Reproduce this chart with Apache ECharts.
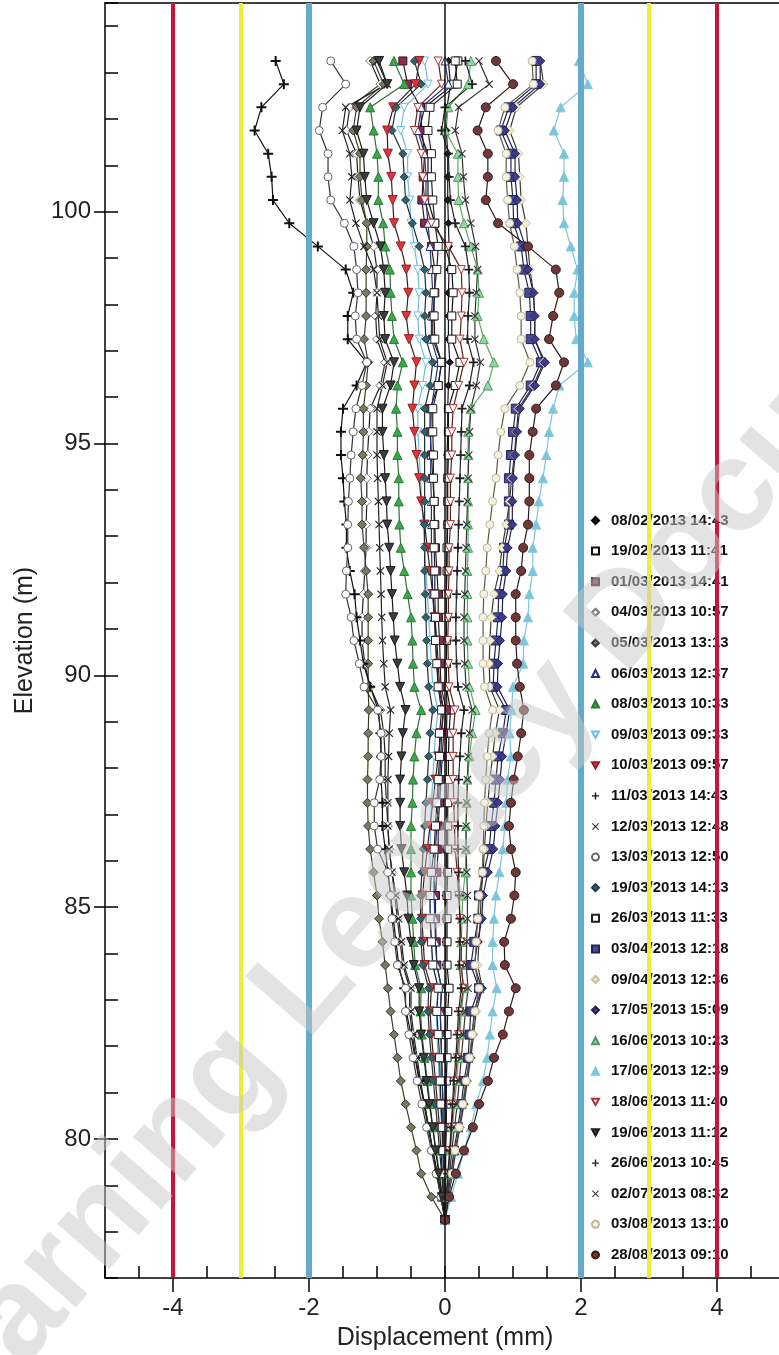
<!DOCTYPE html>
<html><head><meta charset="utf-8">
<script src="https://cdn.jsdelivr.net/npm/echarts@6/dist/echarts.min.js"></script>
<style>html,body{margin:0;padding:0;background:#fff;overflow:hidden}#c{width:779px;height:1355px}</style>
</head><body><div id="c"></div>
<script>
// Elevation (m) of each reading depth, top to bottom
const ELEV = [103.25,102.75,102.25,101.75,101.25,100.75,100.25,99.75,99.25,98.75,
98.25,97.75,97.25,96.75,96.25,95.75,95.25,94.75,94.25,93.75,
93.25,92.75,92.25,91.75,91.25,90.75,90.25,89.75,89.25,88.75,
88.25,87.75,87.25,86.75,86.25,85.75,85.25,84.75,84.25,83.75,
83.25,82.75,82.25,81.75,81.25,80.75,80.25,79.75,79.25,78.75,
78.25];

const NAMES = ["08/02/2013 14:43","19/02/2013 11:41","01/03/2013 14:41","04/03/2013 10:57","05/03/2013 13:13",
"06/03/2013 12:37","08/03/2013 10:33","09/03/2013 09:33","10/03/2013 09:57","11/03/2013 14:43",
"12/03/2013 12:48","13/03/2013 12:50","19/03/2013 14:13","26/03/2013 11:33","03/04/2013 12:18",
"09/04/2013 12:36","17/05/2013 15:09","16/06/2013 10:23","17/06/2013 12:39","18/06/2013 11:40",
"19/06/2013 11:12","26/06/2013 10:45","02/07/2013 08:32","03/08/2013 13:10","28/08/2013 09:10"];

const X_LABELS = [-4,-2,0,2,4];
const Y_LABELS = [80,85,90,95,100];
const LIMITS = [-4,-3,-2,2,3,4];

const S01 = [0.05,0.08,0.03,0.02,0.04,0.04,0.04,0.05,0.06,0.06,
0.05,0.05,0.05,0.07,0.05,0.04,0.04,0.03,0.03,0.03,
0.03,0.03,0.02,0.02,0.02,0.02,0.02,0.02,0.03,0.02,
0.02,0.02,0.02,0.02,0.02,0.02,0.01,0.01,0.01,0.01,
0.02,0.01,0.01,0.01,0.01,0.01,0.00,0.00,0.00,0.00,0.00];
const S02 = [0.19,0.13,-0.30,-0.38,-0.25,-0.25,-0.25,-0.15,0.00,0.10,
0.12,0.10,0.10,0.22,0.15,0.05,0.05,0.05,0.04,0.04,
0.04,0.03,0.03,0.02,0.02,0.02,0.02,0.02,0.08,0.06,
0.05,0.05,0.04,0.04,0.04,0.04,0.03,0.03,0.03,0.03,
0.06,0.04,0.03,0.03,0.02,0.02,0.02,0.01,0.01,0.00,0.00];
const S03 = [-0.62,-0.55,-0.36,-0.34,-0.30,-0.32,-0.34,-0.30,-0.20,-0.15,
-0.15,-0.18,-0.18,-0.05,-0.10,-0.22,-0.22,-0.20,-0.18,-0.16,
-0.15,-0.14,-0.12,-0.10,-0.10,-0.08,-0.07,-0.06,0.02,-0.02,
-0.04,-0.06,-0.08,-0.10,-0.10,-0.12,-0.14,-0.14,-0.13,-0.12,
-0.05,-0.07,-0.06,-0.05,-0.04,-0.03,-0.03,-0.02,-0.01,0.00,0.00];
const S04 = [-1.10,-0.95,-1.40,-1.45,-1.30,-1.28,-1.25,-1.15,-1.05,-1.00,
-1.00,-1.02,-1.00,-0.88,-0.95,-1.10,-1.12,-1.14,-1.15,-1.15,
-1.16,-1.16,-1.18,-1.20,-1.22,-1.22,-1.18,-1.10,-0.95,-0.90,
-0.88,-0.88,-0.86,-0.84,-0.82,-0.78,-0.74,-0.70,-0.66,-0.62,
-0.52,-0.52,-0.48,-0.43,-0.37,-0.31,-0.25,-0.18,-0.12,-0.06,0.00];
const S05 = [-1.05,-0.90,-1.30,-1.35,-1.25,-1.25,-1.22,-1.15,-1.15,-1.16,
-1.16,-1.16,-1.19,-1.13,-1.16,-1.20,-1.20,-1.21,-1.24,-1.22,
-1.22,-1.19,-1.16,-1.13,-1.13,-1.13,-1.13,-1.13,-1.12,-1.13,
-1.13,-1.14,-1.14,-1.13,-1.10,-1.05,-1.00,-0.97,-0.92,-0.88,
-0.84,-0.80,-0.75,-0.70,-0.65,-0.58,-0.50,-0.42,-0.35,-0.20,0.00];
const S06 = [0.00,0.05,-0.35,-0.40,-0.30,-0.28,-0.28,-0.25,-0.22,-0.20,
-0.18,-0.20,-0.20,-0.10,-0.15,-0.20,-0.21,-0.21,-0.21,-0.20,
-0.20,-0.20,-0.19,-0.18,-0.16,-0.14,-0.12,-0.10,-0.02,-0.05,
-0.06,-0.08,-0.10,-0.12,-0.14,-0.16,-0.16,-0.15,-0.14,-0.12,
-0.05,-0.07,-0.06,-0.05,-0.04,-0.03,-0.03,-0.02,-0.01,0.00,0.00];
const S07 = [-0.75,-0.60,-1.10,-1.05,-1.00,-0.98,-0.98,-0.91,-0.88,-0.81,
-0.80,-0.78,-0.75,-0.62,-0.70,-0.72,-0.70,-0.70,-0.68,-0.68,
-0.67,-0.65,-0.60,-0.55,-0.50,-0.48,-0.47,-0.45,-0.35,-0.42,
-0.45,-0.47,-0.48,-0.50,-0.50,-0.50,-0.50,-0.48,-0.46,-0.44,
-0.35,-0.36,-0.34,-0.30,-0.26,-0.22,-0.18,-0.13,-0.08,-0.04,0.00];
const S08 = [-0.30,-0.25,-0.60,-0.65,-0.55,-0.55,-0.52,-0.50,-0.45,-0.40,
-0.38,-0.40,-0.38,-0.28,-0.33,-0.40,-0.40,-0.38,-0.36,-0.34,
-0.32,-0.30,-0.28,-0.26,-0.24,-0.22,-0.20,-0.18,-0.10,-0.14,
-0.16,-0.18,-0.20,-0.21,-0.22,-0.22,-0.22,-0.21,-0.20,-0.18,
-0.10,-0.13,-0.12,-0.10,-0.09,-0.07,-0.05,-0.04,-0.02,-0.01,0.00];
const S09 = [-0.38,-0.43,-0.76,-0.85,-0.84,-0.79,-0.77,-0.75,-0.65,-0.57,
-0.54,-0.57,-0.53,-0.42,-0.45,-0.48,-0.45,-0.42,-0.38,-0.35,
-0.30,-0.26,-0.22,-0.18,-0.15,-0.12,-0.10,-0.08,-0.02,-0.06,
-0.10,-0.14,-0.18,-0.22,-0.26,-0.30,-0.33,-0.34,-0.32,-0.30,
-0.20,-0.22,-0.20,-0.17,-0.14,-0.11,-0.08,-0.06,-0.04,-0.02,0.00];
const S10 = [-2.49,-2.37,-2.70,-2.80,-2.60,-2.55,-2.53,-2.29,-1.87,-1.46,
-1.35,-1.43,-1.43,-1.15,-1.30,-1.50,-1.53,-1.53,-1.50,-1.48,
-1.45,-1.45,-1.40,-1.33,-1.30,-1.25,-1.20,-1.10,-0.98,-0.95,
-0.94,-0.94,-0.92,-0.92,-0.88,-0.84,-0.80,-0.76,-0.72,-0.68,
-0.60,-0.57,-0.50,-0.44,-0.38,-0.30,-0.24,-0.18,-0.11,-0.05,0.00];
const S11 = [-1.00,-0.85,-1.46,-1.51,-1.40,-1.37,-1.40,-1.31,-1.19,-1.05,
-1.00,-0.98,-0.96,-0.85,-0.92,-1.00,-1.00,-1.00,-0.99,-0.98,
-0.97,-0.96,-0.95,-0.94,-0.93,-0.92,-0.90,-0.88,-0.80,-0.82,
-0.83,-0.84,-0.84,-0.84,-0.82,-0.78,-0.72,-0.68,-0.64,-0.60,
-0.50,-0.50,-0.46,-0.41,-0.36,-0.30,-0.24,-0.18,-0.12,-0.06,0.00];
const S12 = [-1.68,-1.46,-1.80,-1.85,-1.72,-1.72,-1.68,-1.48,-1.34,-1.30,
-1.28,-1.32,-1.30,-1.15,-1.22,-1.31,-1.35,-1.38,-1.40,-1.42,
-1.43,-1.43,-1.45,-1.46,-1.38,-1.34,-1.26,-1.19,-0.99,-0.94,
-0.94,-0.96,-1.04,-1.04,-0.99,-0.84,-0.80,-0.78,-0.74,-0.70,
-0.58,-0.58,-0.53,-0.47,-0.41,-0.34,-0.27,-0.20,-0.13,-0.06,0.00];
const S13 = [-0.45,-0.35,-0.72,-0.78,-0.62,-0.60,-0.58,-0.48,-0.38,-0.30,
-0.28,-0.30,-0.28,-0.18,-0.22,-0.30,-0.30,-0.30,-0.30,-0.30,
-0.30,-0.30,-0.30,-0.29,-0.28,-0.27,-0.26,-0.24,-0.18,-0.22,
-0.24,-0.26,-0.28,-0.30,-0.32,-0.34,-0.36,-0.36,-0.35,-0.33,
-0.24,-0.25,-0.23,-0.20,-0.17,-0.14,-0.11,-0.08,-0.05,-0.02,0.00];
const S14 = [0.15,0.18,-0.22,-0.25,-0.20,-0.20,-0.18,-0.15,-0.10,-0.12,
-0.16,-0.16,-0.15,-0.05,-0.10,-0.18,-0.18,-0.17,-0.17,-0.16,
-0.16,-0.16,-0.15,-0.15,-0.14,-0.14,-0.12,-0.10,-0.05,-0.08,
-0.08,-0.10,-0.12,-0.14,-0.16,-0.20,-0.22,-0.22,-0.20,-0.18,
-0.10,-0.12,-0.10,-0.08,-0.07,-0.06,-0.04,-0.03,-0.02,-0.01,0.00];
const S15 = [1.34,1.34,0.94,0.82,0.97,0.97,1.00,1.01,1.12,1.16,
1.24,1.26,1.26,1.41,1.26,1.04,1.00,0.97,0.94,0.94,
0.94,0.87,0.85,0.79,0.78,0.75,0.72,0.71,0.90,0.85,
0.78,0.75,0.72,0.68,0.65,0.57,0.50,0.49,0.43,0.38,
0.50,0.38,0.36,0.34,0.28,0.24,0.19,0.13,0.09,0.04,0.00];
const S16 = [1.40,1.45,1.05,0.95,1.08,1.10,1.12,1.19,1.22,1.25,
1.30,1.32,1.32,1.45,1.30,1.08,1.05,1.02,0.98,0.95,
0.90,0.84,0.80,0.72,0.68,0.66,0.65,0.66,0.80,0.74,
0.70,0.66,0.63,0.60,0.58,0.56,0.53,0.52,0.50,0.48,
0.55,0.46,0.42,0.38,0.33,0.28,0.22,0.16,0.11,0.05,0.00];
const S17 = [1.40,1.40,1.00,0.88,1.03,1.03,1.06,1.07,1.18,1.22,
1.30,1.32,1.32,1.47,1.32,1.10,1.06,1.03,1.00,0.99,
0.99,0.92,0.90,0.85,0.84,0.81,0.78,0.77,0.95,0.90,
0.84,0.81,0.78,0.74,0.71,0.63,0.56,0.54,0.48,0.43,
0.54,0.43,0.40,0.37,0.31,0.27,0.21,0.15,0.10,0.05,0.00];
const S18 = [0.38,0.34,0.05,0.00,0.19,0.19,0.20,0.28,0.38,0.48,
0.50,0.48,0.57,0.72,0.63,0.38,0.34,0.34,0.34,0.34,
0.34,0.34,0.33,0.33,0.33,0.33,0.34,0.36,0.45,0.40,
0.36,0.33,0.32,0.31,0.31,0.30,0.26,0.25,0.24,0.23,
0.28,0.24,0.22,0.20,0.17,0.14,0.11,0.08,0.05,0.02,0.00];
const S19 = [1.97,2.10,1.70,1.60,1.75,1.75,1.73,1.75,1.85,1.95,
1.90,1.90,1.93,2.10,1.68,1.59,1.53,1.49,1.44,1.38,
1.34,1.29,1.29,1.24,1.22,1.16,1.15,1.00,0.98,0.95,
0.97,0.92,0.90,0.88,0.85,0.80,0.75,0.72,0.70,0.70,
0.76,0.70,0.66,0.62,0.56,0.46,0.38,0.28,0.19,0.09,0.00];
const S20 = [-0.10,-0.05,-0.40,-0.45,-0.35,-0.33,-0.30,-0.20,0.05,0.24,
0.25,0.24,0.22,0.28,0.20,0.12,0.10,0.10,0.08,0.08,
0.08,0.06,0.06,0.05,0.05,0.04,0.05,0.06,0.15,0.12,
0.12,0.12,0.13,0.14,0.15,0.18,0.20,0.22,0.24,0.24,
0.27,0.22,0.20,0.18,0.15,0.12,0.10,0.07,0.05,0.02,0.00];
const S21 = [-0.97,-0.85,-1.25,-1.30,-1.20,-1.18,-1.15,-1.05,-0.95,-0.90,
-0.88,-0.90,-0.88,-0.75,-0.80,-0.92,-0.92,-0.90,-0.88,-0.86,
-0.85,-0.82,-0.80,-0.78,-0.76,-0.74,-0.70,-0.66,-0.58,-0.62,
-0.64,-0.66,-0.66,-0.66,-0.64,-0.60,-0.56,-0.54,-0.50,-0.46,
-0.38,-0.38,-0.35,-0.31,-0.27,-0.23,-0.18,-0.14,-0.09,-0.04,0.00];
const S22 = [0.30,0.40,0.00,-0.05,0.05,0.06,0.08,0.15,0.30,0.35,
0.36,0.34,0.33,0.42,0.36,0.25,0.24,0.23,0.22,0.21,
0.20,0.19,0.18,0.17,0.16,0.16,0.17,0.19,0.28,0.24,
0.22,0.20,0.19,0.19,0.19,0.20,0.21,0.22,0.22,0.21,
0.24,0.20,0.18,0.16,0.13,0.11,0.09,0.07,0.04,0.02,0.00];
const S23 = [0.50,0.65,0.20,0.15,0.25,0.27,0.30,0.38,0.45,0.48,
0.46,0.44,0.44,0.52,0.46,0.38,0.36,0.35,0.34,0.33,
0.32,0.31,0.30,0.29,0.28,0.28,0.29,0.31,0.40,0.36,
0.34,0.33,0.32,0.31,0.31,0.32,0.33,0.33,0.32,0.31,
0.34,0.30,0.27,0.24,0.21,0.18,0.14,0.10,0.07,0.03,0.00];
const S24 = [1.28,1.30,0.88,0.78,0.90,0.90,0.92,0.95,1.02,1.06,
1.10,1.12,1.12,1.25,1.10,0.88,0.82,0.78,0.75,0.70,
0.66,0.62,0.60,0.57,0.56,0.56,0.56,0.58,0.70,0.65,
0.62,0.60,0.58,0.57,0.56,0.55,0.50,0.48,0.46,0.44,
0.50,0.44,0.40,0.36,0.31,0.26,0.21,0.15,0.10,0.05,0.00];
const S25 = [0.75,1.00,0.60,0.48,0.63,0.63,0.60,0.78,1.22,1.63,
1.68,1.59,1.53,1.75,1.63,1.34,1.29,1.24,1.24,1.24,
1.22,1.15,1.12,1.04,1.04,1.04,1.06,1.10,1.16,1.12,
1.07,1.01,0.97,0.94,0.97,1.04,1.02,0.97,0.87,0.88,
1.04,0.94,0.85,0.72,0.63,0.50,0.41,0.28,0.16,0.06,0.00];

const VALUES = [S01,S02,S03,S04,S05,S06,S07,S08,S09,S10,S11,S12,S13,S14,S15,S16,S17,S18,S19,S20,S21,S22,S23,S24,S25];

const PLUS = 'path://M4,0H6V4H10V6H6V10H4V6H0V4H4Z';
const CROSS = 'path://M1,0L5,4L9,0L10,1L6,5L10,9L9,10L5,6L1,10L0,9L4,5L0,1Z';
const DOWN = 'path://M0,0L10,0L5,9Z';

const STYLE = [
 {sym:'diamond', size:7, fill:'#1a1a1a', bd:'#000', line:'#111'},
 {sym:'rect', size:8, fill:'#ffffff', bd:'#111', line:'#111'},
 {sym:'rect', size:8, fill:'#8e2a4e', bd:'#3a1020', line:'#2a1a1a'},
 {sym:'diamond', size:9, fill:'#ffffff', bd:'#777', line:'#222'},
 {sym:'diamond', size:9, fill:'#7a7a5c', bd:'#333', line:'#3d3d2a'},
 {sym:'triangle', size:8, fill:'#ffffff', bd:'#20307a', line:'#20307a'},
 {sym:'triangle', size:9, fill:'#3aa84a', bd:'#2a7a35', line:'#2e6e38'},
 {sym:DOWN, size:8, fill:'#ffffff', bd:'#6cc0e0', line:'#6cbcdc'},
 {sym:DOWN, size:9, fill:'#e8303a', bd:'#902020', line:'#3a1a1a'},
 {sym:PLUS, size:10, fill:'#111', bd:'#111', line:'#111'},
 {sym:CROSS, size:8, fill:'#222', bd:'#222', line:'#222'},
 {sym:'circle', size:8, fill:'#ffffff', bd:'#666', line:'#333'},
 {sym:'diamond', size:8, fill:'#35606a', bd:'#1d3a40', line:'#1d2d30'},
 {sym:'rect', size:8, fill:'#ffffff', bd:'#222', line:'#222'},
 {sym:'rect', size:9, fill:'#4a4a96', bd:'#22225a', line:'#23234a'},
 {sym:'diamond', size:9, fill:'#f4f0d8', bd:'#c8c090', line:'#3a3a30'},
 {sym:'diamond', size:9, fill:'#3c3c8a', bd:'#1e1e55', line:'#20204a'},
 {sym:'triangle', size:9, fill:'#90d8a0', bd:'#4f9a5c', line:'#5aa868'},
 {sym:'triangle', size:9, fill:'#7cc6dc', bd:'#7cc6dc', line:'#7cc6dc'},
 {sym:DOWN, size:8, fill:'#ffffff', bd:'#b03030', line:'#602020'},
 {sym:DOWN, size:9, fill:'#3c3c3c', bd:'#1a1a1a', line:'#1a1a1a'},
 {sym:PLUS, size:9, fill:'#222', bd:'#222', line:'#222'},
 {sym:CROSS, size:8, fill:'#333', bd:'#333', line:'#333'},
 {sym:'circle', size:8, fill:'#f4f2e4', bd:'#c0b890', line:'#5a5a4a'},
 {sym:'circle', size:9, fill:'#6e3838', bd:'#3a1a1a', line:'#2a1a1a'}
];

const FONT = 'Liberation Sans, Arial, sans-serif';
const LIMIT_STYLE = {'-4':{color:'#cc1236',width:4},'4':{color:'#cc1236',width:4},
 '-3':{color:'#eeee36',width:4},'3':{color:'#eeee36',width:4},
 '-2':{color:'#64aacd',width:6},'2':{color:'#64aacd',width:6}};

const series = NAMES.map((n,k)=>{
  const st = STYLE[k];
  return {
    type:'line', name:n, xAxisIndex:0, yAxisIndex:0,
    data: VALUES[k].map((v,j)=>[v, ELEV[j]]),
    symbol: st.sym, symbolSize: st.size, showSymbol:true, showAllSymbol:true,
    lineStyle:{color:st.line, width:1.2},
    itemStyle:{color:st.fill, borderColor:st.bd, borderWidth:(st.sym===PLUS||st.sym===CROSS)?0:1},
    emphasis:{disabled:true}, animation:false, z:3
  };
});
series.push({
  type:'line', data:[], xAxisIndex:0, yAxisIndex:0, z:1, silent:true,
  markLine:{silent:true, symbol:['none','none'], label:{show:false}, animation:false, emphasis:{disabled:true},
    data:[{xAxis:0, lineStyle:{color:'#111', width:1.5, type:'solid'}}]}
});
series.push({
  type:'line', data:[], xAxisIndex:0, yAxisIndex:0, z:10, silent:true,
  markLine:{silent:true, symbol:['none','none'], label:{show:false}, animation:false, emphasis:{disabled:true},
    data: LIMITS.map(v=>({xAxis:v, lineStyle:Object.assign({type:'solid'}, LIMIT_STYLE[String(v)])}))}
});

const chart = echarts.init(document.getElementById('c'), null, {renderer:'canvas'});
chart.setOption({
  animation:false,
  backgroundColor:'#fff',
  textStyle:{fontFamily:FONT},
  grid:{left:105, top:3, width:680, height:1275, show:false, containLabel:false, outerBoundsMode:'none'},
  legend:{
    orient:'vertical', left:586, top:506.5, itemWidth:7, itemHeight:7, itemGap:12.6,
    data: NAMES.map((n,k)=>({name:n, icon:STYLE[k].sym})),
    textStyle:{fontFamily:FONT, fontSize:15, fontWeight:'bold', color:'#111', lineHeight:18, padding:[0,0,0,7]},
    selectedMode:false, z:4
  },
  xAxis:[
    {type:'value', min:-5, max:5, position:'bottom',
     axisLine:{onZero:false, lineStyle:{color:'#000', width:1.5}},
     axisTick:{show:true, inside:false, length:14, customValues:X_LABELS, lineStyle:{color:'#000', width:1.5}},
     axisLabel:{customValues:X_LABELS, fontSize:24, color:'#222', margin:18, fontFamily:FONT},
     splitLine:{show:false},
     name:'Displacement (mm)', nameLocation:'middle', nameGap:48,
     nameTextStyle:{fontSize:25, color:'#222', fontFamily:FONT}},
    {type:'value', min:-5, max:5, interval:0.5, position:'bottom',
     axisLine:{show:false, onZero:false},
     axisTick:{show:true, inside:true, length:12, lineStyle:{color:'#000', width:1.5}},
     axisLabel:{show:false}, splitLine:{show:false}},
    {type:'value', min:-5, max:5, position:'top',
     axisLine:{show:true, onZero:false, lineStyle:{color:'#000', width:1.5}},
     axisTick:{show:false}, axisLabel:{show:false}, splitLine:{show:false}}
  ],
  yAxis:[
    {type:'value', min:77, max:104.5, position:'left',
     axisLine:{onZero:false, lineStyle:{color:'#000', width:1.5}},
     axisTick:{show:true, inside:false, length:11, customValues:Y_LABELS, lineStyle:{color:'#000', width:1.5}},
     axisLabel:{customValues:Y_LABELS, fontSize:24, color:'#222', margin:14, fontFamily:FONT},
     splitLine:{show:false},
     name:'Elevation (m)', nameLocation:'middle', nameGap:67, nameRotate:90,
     nameTextStyle:{fontSize:25, color:'#222', fontFamily:FONT}},
    {type:'value', min:77, max:104.5, interval:1, position:'left',
     axisLine:{show:false, onZero:false},
     axisTick:{show:true, inside:true, length:13, lineStyle:{color:'#000', width:1.5}},
     axisLabel:{show:false}, splitLine:{show:false}}
  ],
  graphic:[{
    type:'text', x:479, y:789, rotation:49*Math.PI/180, z:100, silent:true,
    style:{text:'Learning Legacy Documents', font:'bold 130px ' + FONT,
      fill:'rgba(200,200,200,0.5)', textAlign:'center', textVerticalAlign:'middle'}
  }],
  series: series
});
</script>
</body></html>
